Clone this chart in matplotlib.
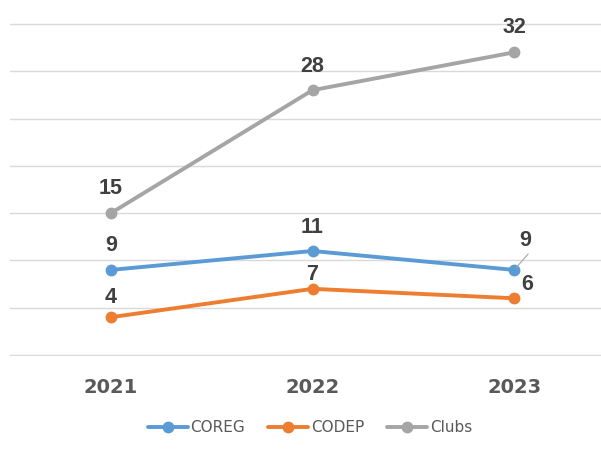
import matplotlib.pyplot as plt
import numpy as np

years = ['2021', '2022', '2023']
coreg = [9, 11, 9]
codep = [4, 7, 6]
clubs = [15, 28, 32]

series = [
    ('COREG', coreg, '#5B9BD5'),
    ('CODEP', codep, '#ED7D31'),
    ('Clubs', clubs, '#A5A5A5'),
]

fig = plt.figure(figsize=(6.01, 4.5), dpi=100)
ax = fig.add_axes([10 / 601, 1 - 356 / 450, 605 / 601, 333 / 450])

x = np.arange(len(years))
for name, vals, color in series:
    ax.plot(x, vals, color=color, lw=2.8, marker='o', markersize=7.5,
            label=name, solid_capstyle='round', zorder=3)

# data label offsets (pixels from the point to the text baseline)
offsets = {
    'COREG': [(0, 19), (0, 18), (11, 24)],
    'CODEP': [(0, 14), (0, 9), (13, 8)],
    'Clubs': [(0, 19), (0, 18), (0, 19)],
}
for name, vals, color in series:
    for i, v in enumerate(vals):
        dx, dy = offsets[name][i]
        ax.annotate(str(v), (x[i], v), xytext=(dx * 0.72, dy * 0.72),
                    textcoords='offset points', ha='center', va='baseline',
                    fontsize=15.5, fontweight='bold', family='Liberation Sans',
                    color='#404040', zorder=5)

# leader line for the COREG 2023 label
ax.annotate('', (x[2], coreg[2]), xytext=(14 * 0.72, 16 * 0.72), textcoords='offset points',
            arrowprops=dict(arrowstyle='-', color='#A5A5A5', lw=0.8,
                            shrinkA=0, shrinkB=2), zorder=4)

ax.set_xlim(-0.5, 2.5)
ax.set_ylim(-0.1, 35.1)
ax.set_yticks(np.arange(0, 36, 5))
ax.yaxis.grid(True, color='#D9D9D9', lw=1)
ax.set_axisbelow(True)
ax.tick_params(left=False, bottom=False, labelleft=False)
ax.set_xticks(x)
ax.set_xticklabels(years, fontsize=14, fontweight='bold', color='#595959')
ax.tick_params(axis='x', pad=12)
for s in ax.spines.values():
    s.set_visible(False)

handles, labels = ax.get_legend_handles_labels()
fig.legend(handles, labels, loc='center', bbox_to_anchor=(310 / 601, 1 - 428 / 450),
           ncol=3, frameon=False, fontsize=11, labelcolor='#595959',
           handlelength=2.6, handletextpad=0.2, columnspacing=1.5)

plt.savefig('out.png', dpi=100)
